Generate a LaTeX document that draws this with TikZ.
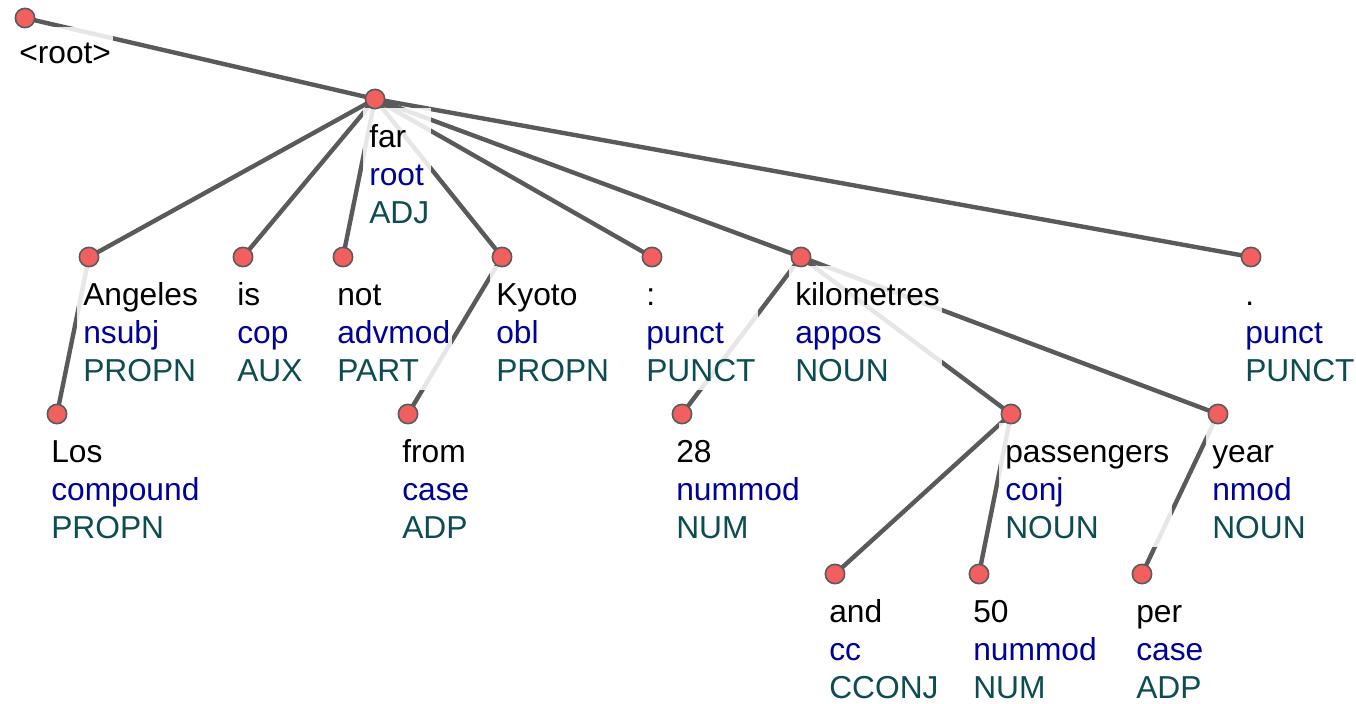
\documentclass[tikz,border=0pt]{standalone}
\usepackage{fontspec}
\setmainfont{Liberation Sans}
\usetikzlibrary{fit}
\definecolor{edgecol}{HTML}{5A5A5A}
\definecolor{dotfill}{HTML}{F25F5F}
\definecolor{relcol}{HTML}{00009A}
\definecolor{poscol}{HTML}{0D4C50}
\pgfdeclarelayer{edgelayer}
\pgfdeclarelayer{boxlayer}
\pgfsetlayers{edgelayer,boxlayer,main}
\tikzset{
  dot/.style={circle, fill=dotfill, draw=edgecol, line width=1.2pt, minimum size=14.5pt, inner sep=0pt},
  lbl/.style={inner sep=0pt, anchor=base west, font=\fontsize{23.8pt}{28pt}\selectfont},
  wordtxt/.style={lbl, text=black},
  reltxt/.style={lbl, text=relcol},
  postxt/.style={lbl, text=poscol},
  lblbox/.style={fill=white, fill opacity=0.85, draw=none, inner xsep=1.5pt, inner ysep=0pt},
  dep/.style={draw=edgecol, line width=3.3pt},
}
\newcommand{\tok}[6]{%
  \node[dot] (#1) at (#2,#3) {};
  \node[wordtxt] (#1-w) at ({#2-6},{#3+48}) {#4};
  \node[reltxt] (#1-d) at ({#2-6},{#3+86}) {#5};
  \node[postxt] (#1-p) at ({#2-6},{#3+124}) {#6};
  \coordinate (#1-tl) at ({#2-10},{#3+9});
  \coordinate (#1-bl) at ({#2-10},{#3+133});
  \begin{pgfonlayer}{boxlayer}
    \node[lblbox, fit=(#1-w)(#1-d)(#1-p)(#1-tl)(#1-bl)] (#1-box) {};
  \end{pgfonlayer}
}
\begin{document}
\begin{tikzpicture}[x=0.75pt,y=-0.75pt]
  \useasboundingbox (0,0) rectangle (1356,703);
  % root
  \node[dot] (root) at (25,18) {};
  \node[wordtxt] (root-w) at (19,63) {<root>};
  \coordinate (root-tl) at (15,27);
  \coordinate (root-bl) at (15,70);
  \begin{pgfonlayer}{boxlayer}
    \node[lblbox, fit=(root-w)(root-tl)(root-bl)] (root-box) {};
  \end{pgfonlayer}
  % tokens
  \tok{far}{375}{99}{far}{root}{ADJ}
  \tok{angeles}{89}{257}{Angeles}{nsubj}{PROPN}
  \tok{is}{243}{257}{is}{cop}{AUX}
  \tok{not}{343}{257}{not}{advmod}{PART}
  \tok{kyoto}{502}{257}{Kyoto}{obl}{PROPN}
  \tok{colon}{652}{257}{:}{punct}{PUNCT}
  \tok{km}{801}{257}{kilometres}{appos}{NOUN}
  \tok{period}{1251}{257}{.}{punct}{PUNCT}
  \tok{los}{57}{414}{Los}{compound}{PROPN}
  \tok{from}{408}{414}{from}{case}{ADP}
  \tok{n28}{682}{414}{28}{nummod}{NUM}
  \tok{pass}{1011}{414}{passengers}{conj}{NOUN}
  \tok{year}{1218}{414}{year}{nmod}{NOUN}
  \tok{and}{835}{574}{and}{cc}{CCONJ}
  \tok{n50}{979}{574}{50}{nummod}{NUM}
  \tok{per}{1142}{574}{per}{case}{ADP}
  % edges
  \begin{pgfonlayer}{edgelayer}
    \draw[dep] (root.center) -- (far.center);
    \draw[dep] (far.center) -- (angeles.center);
    \draw[dep] (far.center) -- (is.center);
    \draw[dep] (far.center) -- (not.center);
    \draw[dep] (far.center) -- (kyoto.center);
    \draw[dep] (far.center) -- (colon.center);
    \draw[dep] (far.center) -- (km.center);
    \draw[dep] (far.center) -- (period.center);
    \draw[dep] (angeles.center) -- (los.center);
    \draw[dep] (kyoto.center) -- (from.center);
    \draw[dep] (km.center) -- (n28.center);
    \draw[dep] (km.center) -- (pass.center);
    \draw[dep] (km.center) -- (year.center);
    \draw[dep] (pass.center) -- (and.center);
    \draw[dep] (pass.center) -- (n50.center);
    \draw[dep] (year.center) -- (per.center);
  \end{pgfonlayer}
\end{tikzpicture}
\end{document}
